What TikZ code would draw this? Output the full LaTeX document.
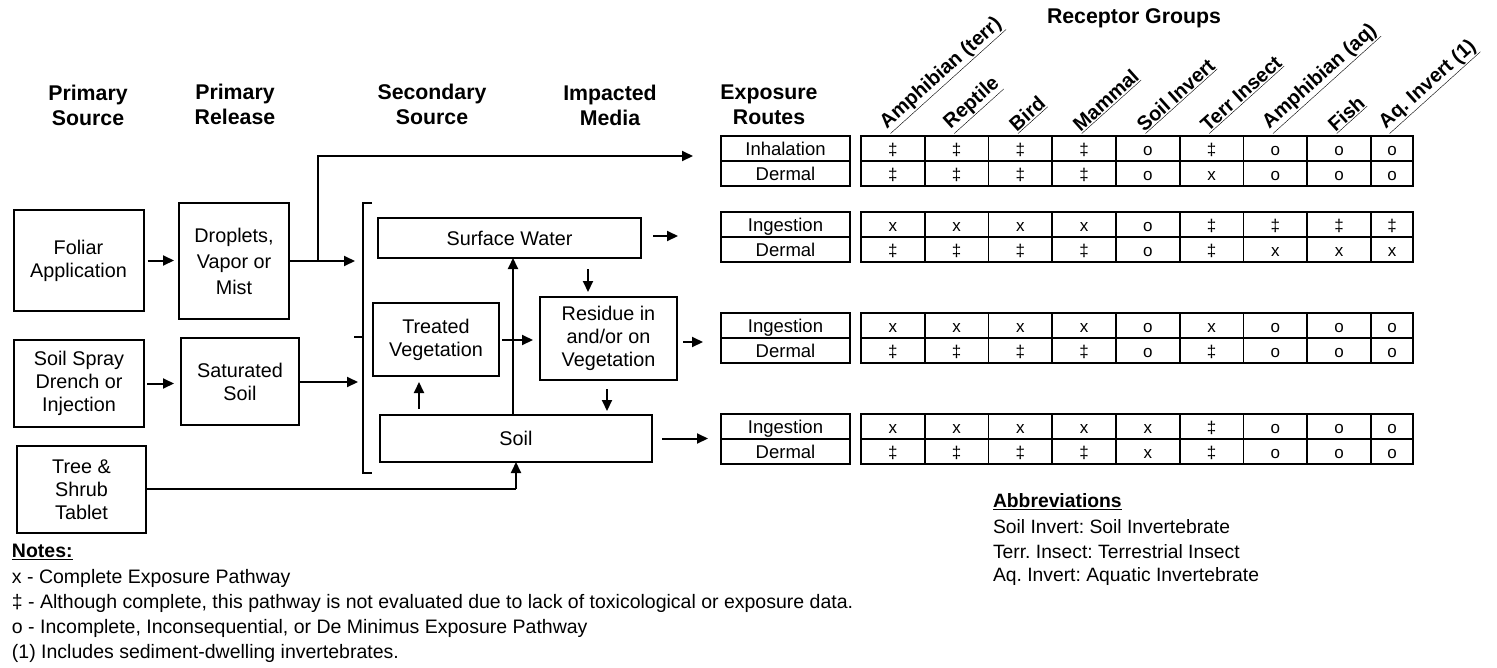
\documentclass[tikz,border=0pt]{standalone}
\usepackage{fontspec}
\setmainfont{Liberation Sans}
\usetikzlibrary{arrows.meta}
\frenchspacing
\newcommand\cellrow[3]{%
  \foreach \v [count=\i] in {#3} {
    \pgfmathsetmacro\xl{861+63.75*(\i-1)}
    \pgfmathsetmacro\xr{\i==9 ? 1413 : 861+63.75*\i}
    \node[cell, minimum width={(\xr-\xl)*1pt}] (#2-\i) at ({(\xl+\xr)/2},#1) {\v};
  }}
\begin{document}
\frenchspacing
\begin{tikzpicture}[x=1pt,y=-1pt,
  every node/.style={inner sep=0pt, outer sep=0pt},
  box/.style={draw, line width=2pt, align=center, font=\fontsize{19.8}{23}\selectfont},
  hdr/.style={align=center, font=\bfseries\fontsize{21.3}{25}\selectfont},
  arr/.style={line width=2pt, -{Triangle[length=11pt,width=10pt]}},
  ln/.style={line width=2pt},
  route/.style={draw, line width=1.8pt, minimum width=129pt, minimum height=25pt, text height=14pt, text depth=1pt, font=\fontsize{18.5}{20}\selectfont},
  cell/.style={draw, line width=1.8pt, minimum height=25pt, text height=14pt, text depth=1pt, font=\fontsize{17}{20}\selectfont},
  rlab/.style={anchor=south west, rotate=42, font=\bfseries\fontsize{20}{21}\selectfont},
  note/.style={anchor=west, font=\fontsize{19.5}{22}\selectfont},
  abbr/.style={anchor=west, font=\fontsize{19.3}{22}\selectfont},
]
\useasboundingbox (0,0) rectangle (1497,667);

% headers
\node[hdr] (h1) at (88,105.5) {Primary\\Source};
\node[hdr] (h2) at (235,104.5) {Primary\\Release};
\node[hdr] (h3) at (432,104) {Secondary\\Source};
\node[hdr] (h4) at (610,105.5) {Impacted\\Media};
\node[hdr] (h5) at (769,104.5) {Exposure\\Routes};
\node[hdr] (rg) at (1134,18) {Receptor Groups};

% source boxes
\node[box, minimum width=130pt, minimum height=101pt] (foliar) at (78.5,260.5) {Foliar\\Application};
\node[box, minimum width=110pt, minimum height=116pt, font=\fontsize{19.8}{26}\selectfont] (drop) at (234,261) {Droplets,\\Vapor or\\Mist};
\node[box, minimum width=130pt, minimum height=87pt] (spray) at (79,383.5) {Soil Spray\\Drench or\\Injection};
\node[box, minimum width=118pt, minimum height=87pt] (sat) at (240,381.5) {Saturated\\Soil};
\node[box, minimum width=129pt, minimum height=87pt] (tree) at (81.5,489.5) {Tree \&\\Shrub\\Tablet};

% media boxes
\node[box, minimum width=263pt, minimum height=40pt] (sw) at (509.5,238) {Surface Water};
\node[box, minimum width=126pt, minimum height=73pt] (tv) at (436,339.5) {Treated\\Vegetation};
\node[box, minimum width=137pt, minimum height=83pt] (res) at (608.5,338.5) {Residue in\\and/or on\\Vegetation};
\node[box, minimum width=272pt, minimum height=47pt] (soil) at (516,438.5) {Soil};

% bracket
\draw[ln] (372,203) -- (363,203) -- (363,473) -- (372,473);
\coordinate (bmid) at (363,337);
\coordinate (btick) at (354,337);
\draw[ln] (bmid) -- (btick);

% coordinates
\coordinate (b1) at (355,261);
\coordinate (b2) at (358,382);
\coordinate (junc) at (318,261);
\coordinate (inhtip) at (693,156);
\coordinate (treecorner) at (516,489);

% arrows left part
\draw[arr] ([xshift=4pt]foliar.east) -- ([xshift=-5pt]drop.west |- foliar.east);
\draw[arr] ([xshift=3pt]spray.east) -- ([xshift=-7pt]sat.west |- spray.east);
\draw[ln] (drop.east) -- (junc);
\draw[arr] (junc) -- (b1);
\draw[arr] (junc) |- (inhtip);
\draw[arr] (sat.east |- b2) -- (b2);
\draw[ln] (tree.east |- treecorner) -- (treecorner);
\draw[arr] (treecorner) -- (soil.south -| treecorner);

% internal arrows
\draw[arr] (soil.north -| 513,0) -- (sw.south -| 513,0);
\draw[arr] ([yshift=6pt]soil.north -| 419,0) -- ([yshift=-6pt]tv.south -| 419,0);
\draw[arr] ([xshift=3pt]tv.east |- 0,340) -- ([xshift=-7pt]res.west |- 0,340);
\draw[arr] ([yshift=-11pt]sw.south -| 588,0) -- ([yshift=5pt]res.north -| 588,0);
\draw[arr] ([yshift=-9pt]res.south -| 607,0) -- ([yshift=4pt]soil.north -| 607,0);

% arrows to exposure routes
\draw[arr] ([xshift=12pt]sw.east |- 0,236) -- ++(25,0);
\draw[arr] ([xshift=6pt]res.east |- 0,342) -- ++(20,0);
\draw[arr] ([xshift=10pt]soil.east) -- ++(46,0);

% exposure route boxes
\foreach \gy/\ra/\rb/\g in {136/Inhalation/Dermal/1, 212/Ingestion/Dermal/2, 313/Ingestion/Dermal/3, 414/Ingestion/Dermal/4} {
  \node[route] (r\g a) at (785.5,\gy+12.5) {\ra};
  \node[route] (r\g b) at (785.5,\gy+37.5) {\rb};
}

% table
\cellrow{148.5}{c1a}{‡,‡,‡,‡,o,‡,o,o,o}
\cellrow{173.5}{c1b}{‡,‡,‡,‡,o,x,o,o,o}
\cellrow{224.5}{c2a}{x,x,x,x,o,‡,‡,‡,‡}
\cellrow{249.5}{c2b}{‡,‡,‡,‡,o,‡,x,x,x}
\cellrow{325.5}{c3a}{x,x,x,x,o,x,o,o,o}
\cellrow{350.5}{c3b}{‡,‡,‡,‡,o,‡,o,o,o}
\cellrow{426.5}{c4a}{x,x,x,x,x,‡,o,o,o}
\cellrow{451.5}{c4b}{‡,‡,‡,‡,x,‡,o,o,o}

% receptor labels
\foreach \lab [count=\i] in {Amphibian (terr),Reptile,Bird,Mammal,Soil Invert,Terr Insect,Amphibian (aq),Fish,Aq. Invert (1)} {
  \pgfmathsetmacro\cx{\i==9 ? 1392 : 861+63.75*(\i-0.5)}
  \node[rlab] (lab\i) at (\cx-2,134) {\underline{\lab}};
}

% abbreviations
\node[abbr] (ab0) at (993,502) {\textbf{\underline{Abbreviations}}};
\node[abbr] (ab1) at (993,527) {Soil Invert: Soil Invertebrate};
\node[abbr] (ab2) at (993,552) {Terr. Insect: Terrestrial Insect};
\node[abbr] (ab3) at (993,577) {Aq. Invert: Aquatic Invertebrate};

% notes
\node[note] (n0) at (12,552) {\textbf{\underline{Notes:}}};
\node[note] (n1) at (12,578) {x - Complete Exposure Pathway};
\node[note] (n2) at (12,603) {‡ - Although complete, this pathway is not evaluated due to lack of toxicological or exposure data.};
\node[note] (n3) at (12,628) {o - Incomplete, Inconsequential, or De Minimus Exposure Pathway};
\node[note] (n4) at (12,653) {(1) Includes sediment-dwelling invertebrates.};
\end{tikzpicture}
\end{document}
